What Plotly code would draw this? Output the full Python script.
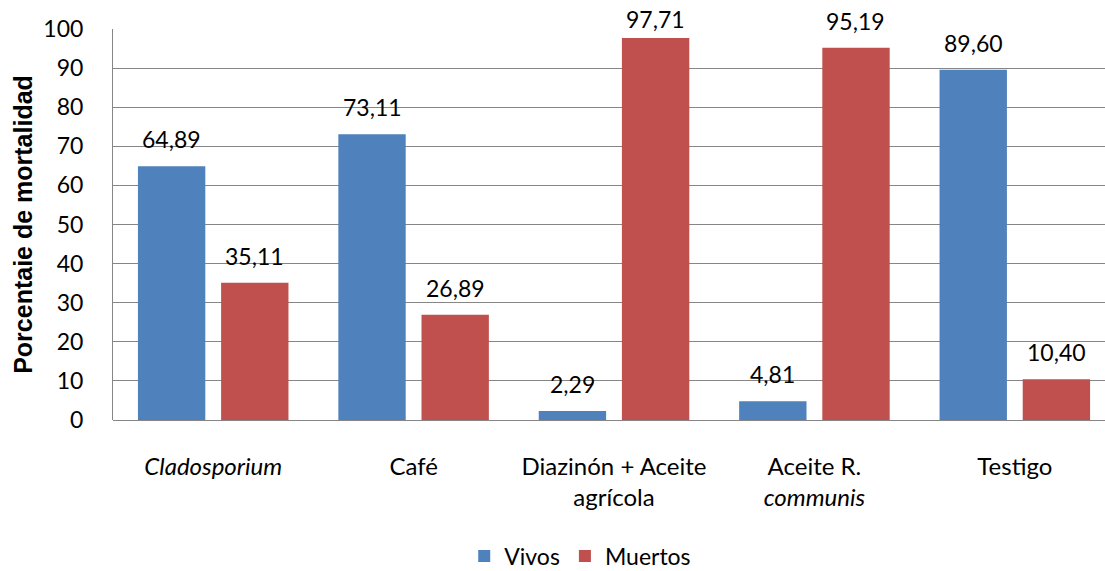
import plotly.graph_objects as go

categories = ["<i>Cladosporium</i>", "Café", "Diazinón + Aceite<br>agrícola",
              "Aceite R.<br><i>communis</i>", "Testigo"]
vivos = [64.89, 73.11, 2.29, 4.81, 89.60]
muertos = [35.11, 26.89, 97.71, 95.19, 10.40]
tick_vals = [0, 10, 20, 30, 40, 50, 60, 70, 80, 90, 100]

BLUE = "#4F81BD"
RED = "#C0504D"
FONT = "Lato, 'Open Sans', sans-serif"

def fmt(v):
    return f"{v:.2f}".replace(".", ",")

x_idx = list(range(len(categories)))

fig = go.Figure()
fig.add_trace(go.Bar(x=x_idx, y=vivos, name="Vivos", marker=dict(color=BLUE, line=dict(width=0))))
fig.add_trace(go.Bar(x=x_idx, y=muertos, name="Muertos", marker=dict(color=RED, line=dict(width=0))))

for i in x_idx:
    for vals, sh in ((vivos, -41.5), (muertos, 41.5)):
        # labels near the top are pulled down to stay inside the chart (as the original does)
        ys = 11 if vals[i] < 96 else 3
        fig.add_annotation(x=i, y=vals[i], text=fmt(vals[i]), showarrow=False,
                           xshift=sh, yshift=ys, yanchor="bottom",
                           font=dict(family=FONT, size=23, color="#000000"))

fig.update_layout(
    width=1105, height=571,
    margin=dict(l=113, r=0, t=29, b=151, autoexpand=False),
    paper_bgcolor="white", plot_bgcolor="white",
    barmode="group", bargap=0.17, bargroupgap=0.19,
    showlegend=True,
    legend=dict(orientation="h", x=0.471, xref="paper", xanchor="center",
                y=-0.348, yanchor="middle", font=dict(family=FONT, size=23, color="#000000"),
                itemwidth=30, traceorder="normal", tracegroupgap=0),
    font=dict(family=FONT, size=23, color="#000000"),
)
fig.update_xaxes(
    tickmode="array", tickvals=x_idx, ticktext=categories,
    range=[-0.5, 4.45], showgrid=False, showline=False, ticks="",
    tickfont=dict(family=FONT, size=24, color="#000000"), ticklabelstandoff=30,
    zeroline=False, automargin=False,
)
fig.update_yaxes(
    range=[0, 100], tickmode="array", tickvals=tick_vals,
    showgrid=True, gridcolor="#868686", gridwidth=1,
    showline=True, linecolor="#868686", linewidth=1,
    ticks="", ticklabelstandoff=24,
    tickfont=dict(family=FONT, size=23, color="#000000"),
    title=dict(text="<b>Porcentaie de mortalidad</b>",
               font=dict(family="'Liberation Sans', Arial, sans-serif", size=25, color="#000000"),
               standoff=3),
    zeroline=True, zerolinecolor="#868686", zerolinewidth=1,
    automargin=False,
)

fig.write_html("out.html", config={"displayModeBar": False},
               post_script="document.body.style.margin='0';document.body.style.overflow='hidden';")
